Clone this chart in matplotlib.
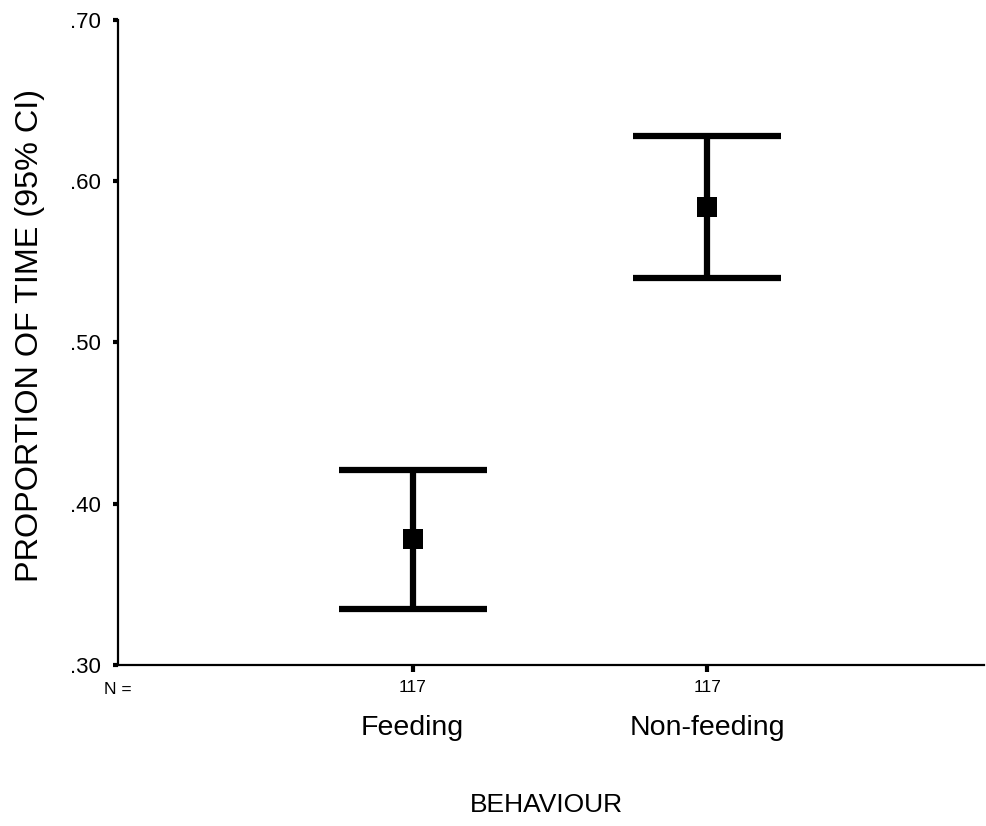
import matplotlib
matplotlib.use("Agg")
import matplotlib.pyplot as plt

categories = ["Feeding", "Non-feeding"]
means = [0.378, 0.584]
lower = [0.335, 0.540]
upper = [0.421, 0.628]
n_values = [117, 117]
yticks = [0.30, 0.40, 0.50, 0.60, 0.70]
ytick_labels = [".30", ".40", ".50", ".60", ".70"]

plt.rcParams['font.family'] = ['Liberation Sans', 'DejaVu Sans']

W, H = 987, 826
fig = plt.figure(figsize=(W / 100, H / 100), dpi=100)
ax = fig.add_axes([118 / W, 1 - 665 / H, (984 - 118) / W, (665 - 20) / H])

pos = [1, 2]
yerr = [[m - l for m, l in zip(means, lower)], [u - m for m, u in zip(means, upper)]]
ax.errorbar(pos, means, yerr=yerr, fmt='none', ecolor='black',
            elinewidth=4.5, capsize=53, capthick=4.5)
ax.plot(pos, means, 's', color='black', markersize=15, markeredgewidth=0)

ax.set_xlim(0, 2.94)
ax.set_ylim(0.30, 0.70)
ax.set_yticks(yticks)
ax.set_yticklabels(ytick_labels, fontsize=16)
ax.set_xticks(pos)
ax.set_xticklabels([str(n) for n in n_values], fontsize=12.5)

for s in ['top', 'right']:
    ax.spines[s].set_visible(False)
for s in ['left', 'bottom']:
    ax.spines[s].set_linewidth(1.6)

ax.tick_params(axis='y', direction='out', length=3.5, width=3, pad=9)
ax.tick_params(axis='x', direction='out', length=5, width=3, pad=6)

# N = label
ax.text(0.0, 0.30 - (690 - 665) / 1612.5, "N =", ha='center', va='center',
        fontsize=12.5)

# category labels
for p, c in zip(pos, categories):
    ax.text(p, 0.30 - (728 - 665) / 1612.5, c, ha='center', va='center', fontsize=20.5)

fig.text(30 / W, 1 - 335.5 / H, "PROPORTION OF TIME (95% CI)", rotation=90,
         ha='center', va='center', fontsize=23.3)
fig.text(546 / W, 1 - 805 / H, "BEHAVIOUR", ha='center', va='center', fontsize=19)

fig.savefig("out.png", dpi=100)
